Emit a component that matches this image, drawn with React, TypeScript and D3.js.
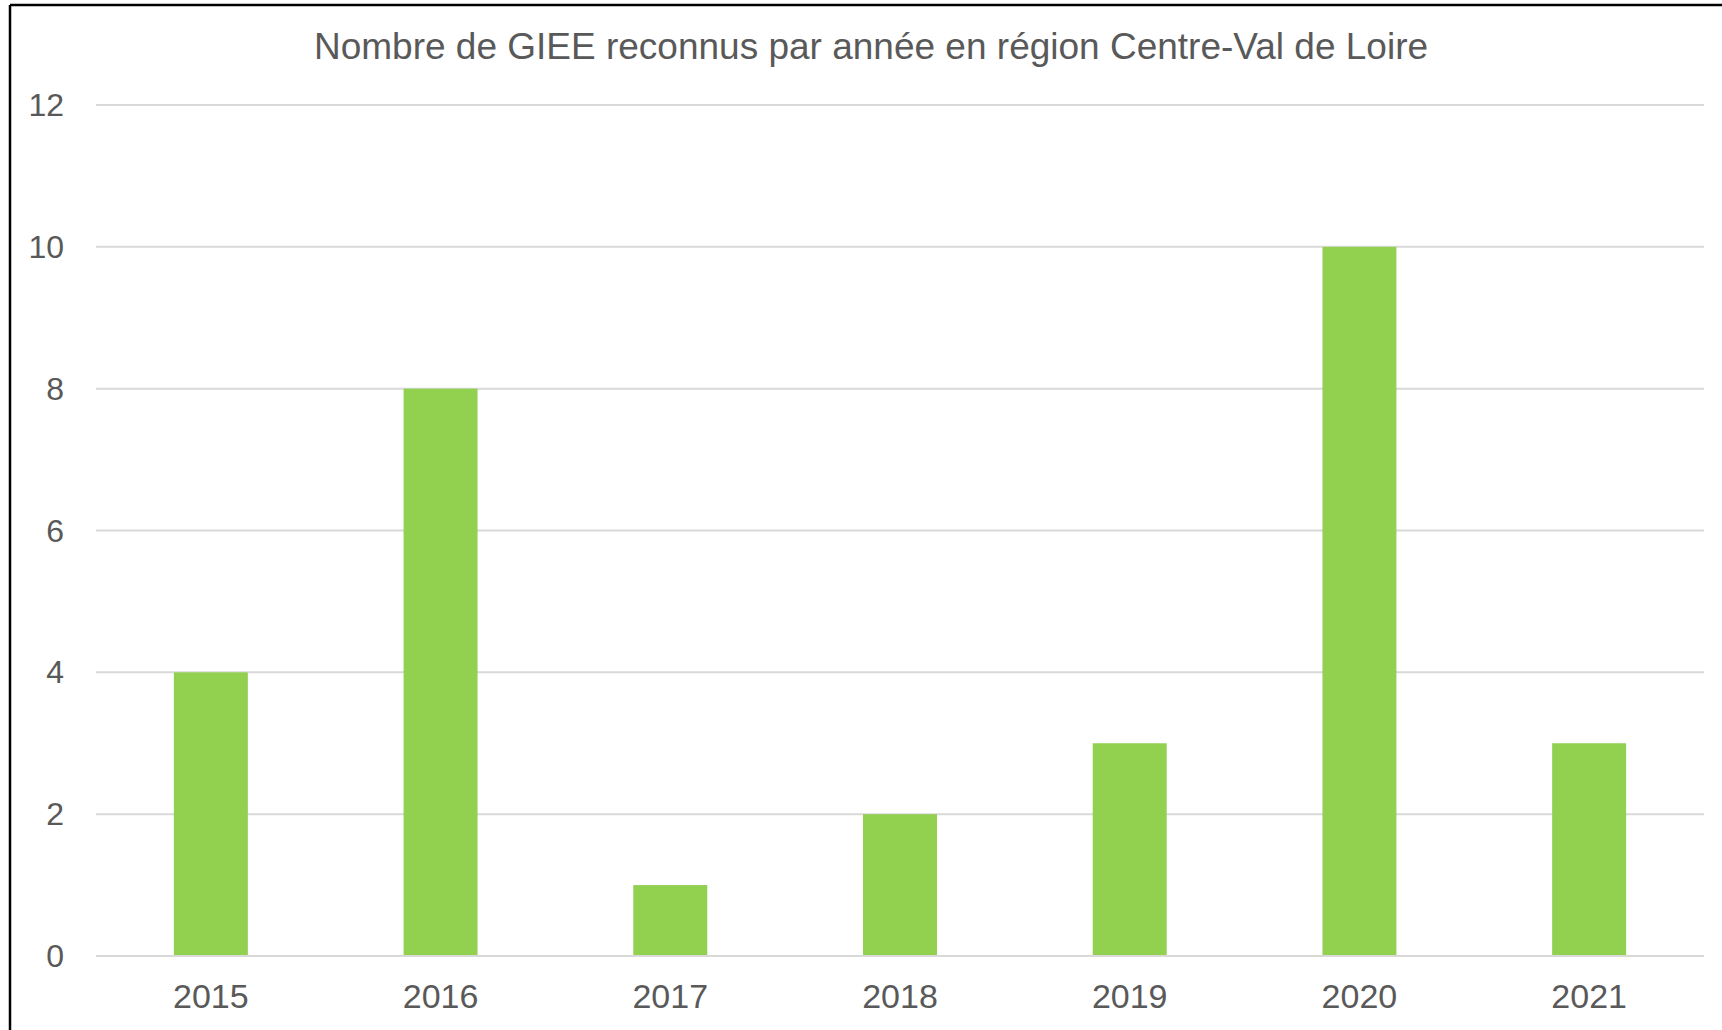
import React from "react";
import * as d3 from "d3";

const years = ["2015", "2016", "2017", "2018", "2019", "2020", "2021"];
const counts = [4, 8, 1, 2, 3, 10, 3];
const yTicks = [0, 2, 4, 6, 8, 10, 12];
const title = "Nombre de GIEE reconnus par année en région Centre-Val de Loire";

const W = 1722;
const H = 1030;
const left = 96;
const right = 1704;
const top = 105;
const bottom = 956;
const font = "Liberation Sans, Arial, sans-serif";
const textColor = "#595959";

export default function App() {
  const x = d3.scaleBand<string>().domain(years).range([left, right]).padding(0);
  const y = d3.scaleLinear().domain([0, 12]).range([bottom, top]);
  const bw = x.bandwidth() * 0.322;
  return (
    <div style={{ position: "fixed", left: 0, top: 0 }}>
      <svg width={W} height={H} style={{ display: "block", background: "#fff" }}>
        <rect x={0} y={0} width={W} height={H} fill="#fff" />
        <line x1={10} y1={5} x2={W} y2={5} stroke="#000" strokeWidth={2.5} />
        <line x1={10} y1={5} x2={10} y2={H} stroke="#000" strokeWidth={2.5} />
        <text x={871} y={59} textAnchor="middle" fontFamily={font} fontSize={37} fill={textColor}>
          {title}
        </text>
        {yTicks.map((t) => (
          <g key={t}>
            <line x1={left} x2={right} y1={y(t)} y2={y(t)} stroke="#D9D9D9" strokeWidth={2} />
            <text x={64} y={y(t) + 11} textAnchor="end" fontFamily={font} fontSize={32} fill={textColor}>
              {t}
            </text>
          </g>
        ))}
        {years.map((yr, i) => {
          const cx = (x(yr) as number) + x.bandwidth() / 2;
          return (
            <g key={yr}>
              <rect x={cx - bw / 2} y={y(counts[i])} width={bw} height={y(0) - y(counts[i]) - 1} fill="#92D050" />
              <text x={cx} y={1008} textAnchor="middle" fontFamily={font} fontSize={34} fill={textColor}>
                {yr}
              </text>
            </g>
          );
        })}
      </svg>
    </div>
  );
}
